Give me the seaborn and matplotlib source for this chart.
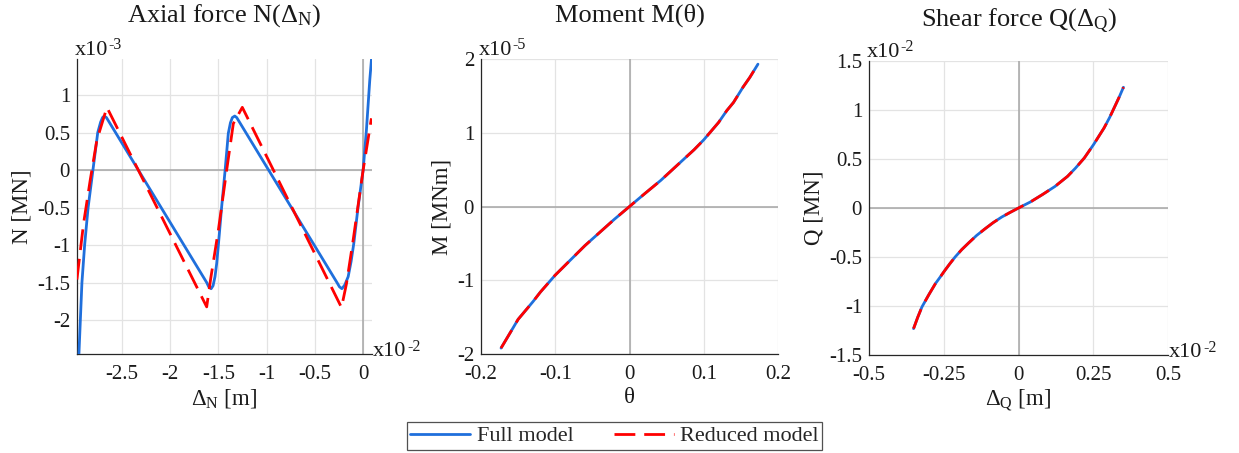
import numpy as np
import pandas as pd
import matplotlib
matplotlib.use("Agg")
import matplotlib.pyplot as plt
import seaborn as sns

# ---------------- data ----------------
# Panel 1: axial force (x in 1e-2 m, y in 1e-3 MN)
axial_full_x = [-2.950, -2.914, -2.886, -2.850, -2.800, -2.750, -2.720, -2.700, -2.683, -2.660,
                -1.620, -1.600, -1.575, -1.555, -1.535, -1.517, -1.490, -1.466, -1.430, -1.397,
                -1.375, -1.355, -1.330, -1.310, -0.270, -0.245, -0.220, -0.190, -0.155, -0.125,
                -0.097, -0.052, 0.000, 0.034, 0.069, 0.092]
axial_full_y = [-2.600, -1.500, -1.000, -0.500, 0.000, 0.500, 0.640, 0.700, 0.720, 0.700,
                -1.500, -1.555, -1.580, -1.540, -1.420, -1.240, -0.850, -0.490, 0.000, 0.490,
                0.630, 0.700, 0.720, 0.700, -1.500, -1.555, -1.580, -1.530, -1.420, -1.220,
                -0.980, -0.490, 0.000, 0.530, 1.200, 1.560]
axial_red_x = [-2.966, -2.897, -2.828, -2.759, -2.655, -1.621, -1.580, -1.500, -1.414,
               -1.345, -1.252, -0.224, -0.172, -0.103, 0.000, 0.086]
axial_red_y = [-1.458, -0.711, -0.133, 0.400, 0.836, -1.822, -1.450, -0.800, 0.000,
               0.620, 0.836, -1.831, -1.510, -0.930, 0.000, 0.690]

# Panel 2: moment (theta, y in 1e-5 MNm)
mom_x = [-0.173, -0.160, -0.150, -0.140, -0.130, -0.120, -0.100, -0.080, -0.060, -0.040,
         -0.020, 0.000, 0.020, 0.042, 0.060, 0.087, 0.100, 0.120, 0.131, 0.140, 0.153,
         0.162, 0.173]
mom_y = [-1.92, -1.70, -1.53, -1.41, -1.29, -1.16, -0.93, -0.73, -0.53, -0.35,
         -0.17, 0.00, 0.17, 0.353, 0.52, 0.77, 0.904, 1.14, 1.30, 1.41, 1.62,
         1.75, 1.93]

# Panel 3: shear force (x in 1e-2 m, y in 1e-2 MN)
shear_x = [-0.351, -0.337, -0.323, -0.300, -0.278, -0.262, -0.247, -0.230, -0.212, -0.190,
           -0.167, -0.140, -0.111, -0.085, -0.056, -0.028, 0.000, 0.040, 0.080, 0.122,
           0.164, 0.190, 0.220, 0.251, 0.286, 0.305, 0.325, 0.338, 0.351]
shear_y = [-1.231, -1.115, -1.010, -0.885, -0.772, -0.705, -0.640, -0.570, -0.500, -0.425,
           -0.357, -0.280, -0.210, -0.150, -0.092, -0.045, 0.000, 0.062, 0.137, 0.220,
           0.323, 0.405, 0.510, 0.647, 0.816, 0.925, 1.055, 1.140, 1.232]

series_names = ["Full model", "Reduced model"]

# ---------------- style ----------------
sns.set_style("white")
plt.rcParams["font.family"] = ["Liberation Serif", "DejaVu Serif"]
plt.rcParams["mathtext.fontset"] = "custom"
plt.rcParams["mathtext.rm"] = "Liberation Serif"
plt.rcParams["mathtext.it"] = "Liberation Serif:italic"
plt.rcParams["mathtext.bf"] = "Liberation Serif:bold"

BLUE = "#1f6fdc"
RED = "#ff0000"
DASH = (0, (7.5, 3.2))
TXT = "#1a1a1a"

fig = plt.figure(figsize=(12.39, 4.53), dpi=100)
W, H = 1239, 453
def ax_at(l, t, r, b):
    return fig.add_axes([l / W, 1 - b / H, (r - l) / W, (b - t) / H])

ax1 = ax_at(77, 59, 372, 354)
ax2 = ax_at(481, 59, 778, 354)
ax3 = ax_at(869, 61, 1168, 355)

def style(ax):
    ax.set_axisbelow(True)
    ax.grid(True, color="#e3e3e3", lw=0.9)
    for s in ["top", "right"]:
        ax.spines[s].set_visible(False)
    for s in ["left", "bottom"]:
        ax.spines[s].set_color("#262626")
        ax.spines[s].set_linewidth(0.9)
    ax.axhline(0, color="#a6a6a6", lw=1.1, zorder=1)
    ax.axvline(0, color="#a6a6a6", lw=1.1, zorder=1)
    ax.tick_params(direction="in", length=3, width=0.8, labelsize=15,
                   colors="#262626", labelcolor=TXT)
    ax.tick_params(axis="y", pad=5)
    ax.tick_params(axis="x", pad=8)

def draw(ax, fx, fy, rx, ry, legend=False):
    df_f = pd.DataFrame({"x": fx, "y": fy})
    df_r = pd.DataFrame({"x": rx, "y": ry})
    sns.lineplot(data=df_f, x="x", y="y", ax=ax, sort=False, color=BLUE, lw=2.0,
                 label=series_names[0] if legend else None, zorder=3)
    sns.lineplot(data=df_r, x="x", y="y", ax=ax, sort=False, color=RED, lw=2.0,
                 linestyle=DASH, label=series_names[1] if legend else None, zorder=4)

draw(ax1, axial_full_x, axial_full_y, axial_red_x, axial_red_y, legend=True)
draw(ax2, mom_x, mom_y, mom_x, mom_y)
draw(ax3, shear_x, shear_y, shear_x, shear_y)

TS, LS = 19, 16.5
# axis 1
ax1.set_xlim(-2.965, 0.092)
ax1.set_ylim(-2.45, 1.48)
ax1.set_xticks([-2.5, -2, -1.5, -1, -0.5, 0])
ax1.set_xticklabels(["-2.5", "-2", "-1.5", "-1", "-0.5", "0"])
ax1.set_yticks([-2, -1.5, -1, -0.5, 0, 0.5, 1])
ax1.set_yticklabels(["-2", "-1.5", "-1", "-0.5", "0", "0.5", "1"])
ax1.set_title(r"Axial force N($\Delta_\mathrm{N}$)", fontsize=TS, pad=27, color=TXT)
ax1.set_xlabel(r"$\Delta_\mathrm{N}$ [m]", fontsize=LS, labelpad=2, color=TXT)
ax1.set_ylabel("N [MN]", fontsize=LS, labelpad=3, color=TXT)

# axis 2
ax2.set_xlim(-0.2, 0.2)
ax2.set_ylim(-2, 2)
ax2.set_xticks([-0.2, -0.1, 0, 0.1, 0.2])
ax2.set_xticklabels(["-0.2", "-0.1", "0", "0.1", "0.2"])
ax2.set_yticks([-2, -1, 0, 1, 2])
ax2.set_yticklabels(["-2", "-1", "0", "1", "2"])
ax2.set_title("Moment M(θ)", fontsize=TS, pad=27, color=TXT)
ax2.set_xlabel("θ", fontsize=LS, labelpad=2, color=TXT)
ax2.set_ylabel("M [MNm]", fontsize=LS, labelpad=3, color=TXT)

# axis 3
ax3.set_xlim(-0.5, 0.5)
ax3.set_ylim(-1.5, 1.5)
ax3.set_xticks([-0.5, -0.25, 0, 0.25, 0.5])
ax3.set_xticklabels(["-0.5", "-0.25", "0", "0.25", "0.5"])
ax3.set_yticks([-1.5, -1, -0.5, 0, 0.5, 1, 1.5])
ax3.set_yticklabels(["-1.5", "-1", "-0.5", "0", "0.5", "1", "1.5"])
ax3.set_title(r"Shear force Q($\Delta_\mathrm{Q}$)", fontsize=TS, pad=25, color=TXT)
ax3.set_xlabel(r"$\Delta_\mathrm{Q}$ [m]", fontsize=LS, labelpad=2, color=TXT)
ax3.set_ylabel("Q [MN]", fontsize=LS, labelpad=3, color=TXT)

for ax in (ax1, ax2, ax3):
    style(ax)

# legend
handles, labels = ax1.get_legend_handles_labels()
ax1.get_legend().remove()
leg = fig.legend(handles, labels, loc="center", bbox_to_anchor=(614.5 / W, 1 - 436 / H),
                 ncol=2, frameon=True, fancybox=False, edgecolor="#262626",
                 fontsize=16, handlelength=2.7, columnspacing=1.8,
                 borderpad=0.15, handletextpad=0.3, borderaxespad=0)
leg.get_frame().set_linewidth(0.9)

# exponent labels: "x10" followed by a small raised "-n"
fig.canvas.draw()
renderer = fig.canvas.get_renderer()
def mult(ax, ax_xy, exp_txt):
    t = ax.text(ax_xy[0], ax_xy[1], "x10", transform=ax.transAxes, ha="left",
                va="baseline", fontsize=16, color=TXT)
    bb = t.get_window_extent(renderer=renderer)
    ax.annotate(exp_txt, xy=(bb.x1 / W, bb.y0 / H), xycoords="figure fraction",
                xytext=(0.3, 7.5), textcoords="offset points", ha="left",
                va="baseline", fontsize=11.5, color=TXT)

mult(ax1, (-0.008, 1.014), "-3")
mult(ax1, (1.004, -0.008), "-2")
mult(ax2, (-0.008, 1.014), "-5")
mult(ax3, (-0.008, 1.014), "-2")
mult(ax3, (1.004, -0.008), "-2")

fig.savefig("out.png", dpi=100, facecolor="white")
